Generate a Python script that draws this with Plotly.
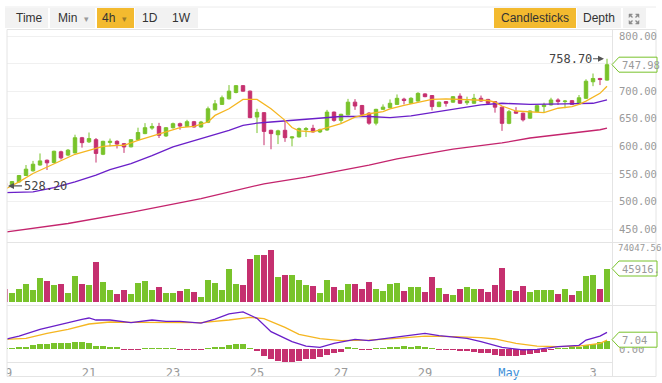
import plotly.graph_objects as go
import pandas as pd

# ---------------- data ----------------
START = pd.Timestamp("2018-04-19 00:00")
STEP = pd.Timedelta(hours=4)

opens = [533, 529, 535.5, 547, 555.5, 566, 574.7, 570.5, 590, 584,
         588, 615.5, 608, 612, 585.5, 607, 609, 604.8, 599, 612,
         623, 633, 636, 618.7, 633.7, 641, 636, 644.6, 635, 643.4,
         666.3, 676, 686, 697.6, 710, 700, 653, 661, 629, 621,
         629, 615, 617, 630, 632.5, 626, 629.5, 662, 647, 657,
         680, 674, 660, 642, 667, 670, 676, 685.5, 678, 682,
         695, 692, 672, 681, 680, 691, 679, 678, 687, 685,
         681, 671, 641.6, 663, 660, 651, 662.8, 672, 675, 684,
         681, 682.7, 677, 687, 717, 723, 720]
highs = [535, 537, 548, 566, 573.5, 587, 576, 592, 592, 595,
         621, 617, 625, 615, 610, 614, 611, 606, 613, 633.7,
         642, 642, 642.5, 635, 643, 643, 648, 646, 646, 672,
         684, 692, 711, 711, 711, 701, 668, 662, 630, 630,
         647, 618, 634, 635, 639, 632, 666, 663, 659, 686,
         685.5, 675, 662, 668, 676, 685, 694, 688, 689, 698,
         696, 693, 681, 682, 691, 696, 690, 695, 692, 686,
         682, 672, 666, 671, 661, 665, 675, 679, 688, 687,
         684, 684, 693, 721.5, 732, 724, 758.7]
lows = [528.2, 528.6, 534, 546, 554, 565, 557, 569, 576, 582,
        587, 597.6, 606, 570.5, 584, 600, 596, 588, 598, 611,
        622, 630, 615, 617, 632, 630, 635, 634, 634, 642,
        665, 675, 685, 696, 699, 651, 624, 602, 594.6, 604,
        608, 600, 616, 617, 625, 624, 628, 644.6, 641.6, 656,
        666, 656, 639, 638, 666, 669, 675, 676, 677, 681,
        689, 665, 671, 672, 679, 677, 675, 677, 681, 676,
        661, 628, 640, 659, 645, 650, 662, 662, 674, 675,
        669, 675, 676, 686, 709, 711, 719]
closes = [529, 536, 547, 558.5, 567.5, 573.5, 570, 591, 579, 593,
          615.5, 606.6, 614, 587, 609, 609, 604, 598.8, 612, 625,
          633.7, 636, 620, 633.7, 641, 636.7, 644.6, 635, 644, 668,
          677, 688, 700, 710, 700, 652, 661.5, 627, 623, 628,
          615.7, 617, 632, 632, 626, 630, 662, 647, 658, 680,
          673, 658, 642, 667, 671, 678, 687, 683, 687, 696,
          690, 672, 680, 678, 690, 678, 682, 687, 682, 678,
          671, 641.6, 662.8, 660, 648, 664, 673.6, 675, 684, 681,
          682, 676, 688, 718, 723, 721, 747.98]
volumes = [18401, 11669, 17503, 24235, 16157, 32314, 28274, 22889, 24235, 12118,
           35006, 24235, 22889, 55202, 26928, 16157, 10771, 16157, 10771, 25582,
           28274, 16157, 20196, 12118, 12118, 14810, 17503, 13464, 6732, 29621,
           25582, 16157, 45778, 24235, 22889, 59242, 64627, 64627, 71359, 33660,
           36353, 36353, 29621, 22889, 21542, 12118, 29621, 20196, 16157, 24684,
           24684, 17503, 26928, 17503, 15259, 24684, 25582, 15259, 20196, 20196,
           13464, 33660, 18850, 10771, 9425, 17503, 20196, 17503, 17503, 13464,
           22889, 47124, 16157, 14810, 21542, 13464, 16157, 16157, 16157, 10771,
           17503, 9425, 14810, 35006, 37699, 17503, 45916]
macd_hist = [0.5, 0.6, 1.4, 2.0, 3.1, 4.0, 4.0, 4.8, 5.1, 5.1,
             5.9, 5.9, 4.8, 2.5, 2.5, 2.0, 1.4, -0.3, -0.5, -0.8,
             0.3, 0.5, 0.3, 0.2, 0.1, -0.1, -0.2, -0.5, -0.3, 0.2,
             1.4, 2.0, 3.1, 4.0, 4.0, 0.2, -1.7, -5.9, -8.5, -9.9,
             -10.7, -10.7, -9.9, -8.8, -8.5, -7.1, -5.1, -3.7, -2.3, 1.1,
             0.6, -0.3, -0.8, 0.3, 0.8, 1.4, 2.0, 2.5, 2.0, 2.5,
             1.4, 0.3, -0.6, -0.8, -0.8, -1.4, -1.7, -2.3, -3.1, -3.7,
             -5.1, -5.9, -5.9, -5.6, -5.1, -4.5, -3.7, -2.5, -0.6, 0.3,
             0.6, 1.1, 2.0, 3.1, 4.2, 5.9, 7.04]

# moving averages, read at candle indices
ma7_idx = [0, 2, 4, 6, 8, 10, 12, 14, 16, 17, 19, 21, 24, 25, 27, 29, 30, 32, 34, 36,
           38, 40, 41, 42, 44, 46, 48, 50, 52, 54, 55, 57, 59, 61, 63, 65, 67, 69, 70, 71,
           73, 75, 77, 79, 81, 82, 83, 85, 86]
ma7_val = [522, 535.5, 550.6, 562.7, 574.7, 585.5, 592.8, 600, 601.8, 601.8, 610.8, 618, 629, 633.7, 636, 644, 656, 668, 685, 685,
           668, 647, 634, 628, 626, 633, 641, 653, 659, 663, 668, 674, 680, 685, 686, 685, 684, 683, 680, 673,
           664, 662, 661, 669, 672, 676, 682, 696, 709]
ma25_idx = [0, 4, 7, 10, 13, 15, 18, 21, 24, 28, 32, 34, 36, 38, 41, 43, 45, 48, 52, 55,
            58, 61, 63, 65, 68, 71, 75, 80, 84, 86]
ma25_val = [516, 517.5, 525, 535.5, 547.6, 557.8, 568.7, 583, 599, 614, 629, 638, 642, 644, 647, 649, 652, 654, 654, 652,
            655, 661, 665, 669, 675, 678, 676, 677, 678, 684]
ma99_idx = [0, 9, 18, 28, 37, 43, 52, 56, 64, 71, 75, 81, 85, 86]
ma99_val = [444.5, 460, 480, 505, 532, 544, 566, 577, 595, 606, 615, 624, 630, 633]

dif_idx = [0, 2, 5, 8, 11, 12, 13, 15, 18, 21, 23, 25, 28, 30, 32, 34, 36, 38, 41, 43,
           45, 47, 50, 52, 57, 60, 62, 66, 68, 71, 74, 76, 79, 82, 83, 85, 86]
dif_val = [8.2, 11, 16.7, 21.2, 25.2, 26.3, 24.6, 24.6, 22.4, 24.6, 23.5, 23.5, 22, 25.4, 29.7, 31.4, 26, 14.7, 6.2, 2.5,
           1.4, 4.8, 8.2, 7.1, 11, 13.3, 11.3, 9, 6.2, 1.4, -0.8, -0.3, 2, 3.1, 7.6, 11, 14.1]
dea_idx = [0, 3, 6, 9, 12, 15, 18, 23, 28, 32, 35, 37, 40, 42, 43, 45, 48, 52, 56, 60,
           64, 68, 70, 73, 76, 79, 82, 85, 86]
dea_val = [8.2, 9, 13.3, 16.7, 21.2, 22.9, 22.6, 22.6, 22.3, 24.6, 26.8, 25.7, 18.4, 12.4, 11.3, 8.8, 7.1, 7.6, 9, 11,
           10.5, 9.6, 8.5, 4.8, 2.5, 2, 2.5, 4.8, 7.6]

price_ticks = [450, 500, 550, 600, 650, 700, 750, 800]
volume_top = 74047.56
day_ticks = ["2018-04-19", "2018-04-21", "2018-04-23", "2018-04-25",
             "2018-04-27", "2018-04-29", "2018-05-01", "2018-05-03"]
day_labels = ["19", "21", "23", "25", "27", "29", "May", "3"]

# ---------------- styling / geometry ----------------
W, H = 662, 383
GREEN = "#79c32b"
PINK = "#c5306f"
GOLD = "#f3ba2f"
YEL = "#f5b621"
PURP = "#6a1fc9"
MAG = "#c4246d"
GRID = "#f0f0f0"
LINE = "#e4e4e4"
MONO = "DejaVu Sans Mono"
SANS = "Liberation Sans"


def fx(px):
    return px / W


def fy(py):
    return 1 - py / H


times = [START + STEP * i for i in range(len(opens))]
col = [GREEN if c >= o else PINK for o, c in zip(opens, closes)]
hcol = [GREEN if v >= 0 else PINK for v in macd_hist]
bar_w = STEP.total_seconds() * 1000 * 0.72


def tx(idx):
    return [START + STEP * i for i in idx]


# axis geometry
PX_DAY = 42.0
X_ZERO_PX = 5.0
PLOT_R = 612.0
x_lo = START - pd.Timedelta(days=X_ZERO_PX / PX_DAY)
x_hi = START + pd.Timedelta(days=(PLOT_R - X_ZERO_PX) / PX_DAY)

MAIN_T, MAIN_B = 30.0, 242.0
p_per_px = 350.0 / (229 - 36)
main_range = [800 - (MAIN_B - 36) * p_per_px, 800 + (36 - MAIN_T) * p_per_px]
VOL_T, VOL_B = 248.0, 302.0
MACD_T, MACD_B = 308.0, 362.0
m_per_px = 7.04 / 8.3
macd_range = [-(MACD_B - 349) * m_per_px, (349 - MACD_T) * m_per_px]


def py_of(v, rng, top, bot):
    return top + (rng[1] - v) / (rng[1] - rng[0]) * (bot - top)


fig = go.Figure()

fig.add_trace(go.Candlestick(
    x=times, open=opens, high=highs, low=lows, close=closes,
    increasing=dict(line=dict(color=GREEN, width=1), fillcolor=GREEN),
    decreasing=dict(line=dict(color=PINK, width=1), fillcolor=PINK),
    whiskerwidth=0, xaxis="x", yaxis="y", hoverinfo="skip"))
for idx, val, c in [(ma99_idx, ma99_val, MAG), (ma25_idx, ma25_val, PURP), (ma7_idx, ma7_val, YEL)]:
    fig.add_trace(go.Scatter(x=tx(idx), y=val, mode="lines", line=dict(color=c, width=1.3),
                             xaxis="x", yaxis="y", hoverinfo="skip"))

fig.add_trace(go.Bar(x=times, y=volumes, marker=dict(color=col, line=dict(width=0)),
                     width=bar_w, xaxis="x2", yaxis="y2", hoverinfo="skip"))

fig.add_trace(go.Bar(x=times, y=macd_hist, marker=dict(color=hcol, line=dict(width=0)),
                     width=bar_w, xaxis="x3", yaxis="y3", hoverinfo="skip"))
fig.add_trace(go.Scatter(x=tx(dea_idx), y=dea_val, mode="lines", line=dict(color=YEL, width=1.3),
                         xaxis="x3", yaxis="y3", hoverinfo="skip"))
fig.add_trace(go.Scatter(x=tx(dif_idx), y=dif_val, mode="lines", line=dict(color=PURP, width=1.3),
                         xaxis="x3", yaxis="y3", hoverinfo="skip"))

xdom = [0, fx(PLOT_R)]
tickfont = dict(family=MONO, size=10.5, color="#9a9a9a")
ticktext_x = [f'<span style="color:#3d8fd8">{t}</span>' if t == "May" else t for t in day_labels]
# the 750 label sits under the last-price box in the reference
price_text = ["" if v == 750 else f"{v:.2f}" for v in price_ticks]

common_x = dict(domain=xdom, range=[x_lo, x_hi], showgrid=False, zeroline=False, type="date",
                automargin=False)
fig.update_layout(
    width=W, height=H, margin=dict(l=0, r=0, t=0, b=0, autoexpand=False),
    paper_bgcolor="white", plot_bgcolor="white", showlegend=False,
    bargap=0,
    xaxis=dict(**common_x, anchor="y", showticklabels=False, rangeslider=dict(visible=False)),
    xaxis2=dict(**common_x, anchor="y2", matches="x", showticklabels=False),
    xaxis3=dict(**common_x, anchor="y3", matches="x", tickvals=day_ticks, ticktext=ticktext_x,
                tickfont=dict(family=MONO, size=12, color="#9a9a9a"), ticks="", showline=True,
                linecolor=LINE, linewidth=1, ticklabeloverflow="allow"),
    yaxis=dict(domain=[fy(MAIN_B), fy(MAIN_T)], range=main_range, side="right", anchor="x",
               tickvals=price_ticks, ticktext=price_text, automargin=False,
               tickfont=tickfont, showgrid=True, gridcolor=GRID, zeroline=False,
               ticklabelstandoff=6, ticklabeloverflow="allow"),
    yaxis2=dict(domain=[fy(VOL_B), fy(VOL_T)], range=[0, volume_top], side="right", anchor="x2",
                tickvals=[volume_top], ticktext=[f"{volume_top:.2f}"],
                tickfont=dict(family=MONO, size=9, color="#9a9a9a"),
                showgrid=True, gridcolor=GRID, zeroline=False, ticklabelstandoff=5,
                ticklabeloverflow="allow", automargin=False),
    yaxis3=dict(domain=[fy(MACD_B), fy(MACD_T)], range=macd_range, side="right", anchor="x3",
                tickvals=[0], ticktext=["0.00"], tickfont=tickfont, showgrid=False,
                zeroline=False, ticklabelstandoff=6, ticklabeloverflow="allow", automargin=False),
)

shapes = []
# chart frame lines
for y0 in [29.5, MAIN_B + 0.5, MACD_T - 2.5]:
    shapes.append(dict(type="line", xref="paper", yref="paper", x0=fx(7), x1=fx(656), y0=fy(y0), y1=fy(y0),
                       line=dict(color=LINE, width=1)))
shapes.append(dict(type="line", xref="paper", yref="paper", x0=fx(7), x1=fx(656), y0=fy(376.5), y1=fy(376.5),
                   line=dict(color=LINE, width=1)))
# left mask and borders
shapes.append(dict(type="rect", xref="paper", yref="paper", x0=0, x1=fx(7), y0=0, y1=fy(29.5),
                   fillcolor="white", line=dict(width=0), layer="above"))
for xpx in [7, PLOT_R + 0.5]:
    shapes.append(dict(type="line", xref="paper", yref="paper", x0=fx(xpx), x1=fx(xpx),
                       y0=fy(376.5), y1=fy(29.5), line=dict(color=LINE, width=1), layer="above"))
shapes.append(dict(type="line", xref="paper", yref="paper", x0=fx(656), x1=fx(656),
                   y0=fy(376.5), y1=fy(29.5), line=dict(color=LINE, width=1), layer="below"))

# toolbar
shapes.append(dict(type="line", xref="paper", yref="paper", x0=fx(5), x1=fx(656), y0=fy(7), y1=fy(7),
                   line=dict(color="#ececec", width=1)))
buttons = [(5, 48, "#f2f2f2"), (50, 95, "#f2f2f2"), (97, 134, GOLD), (135, 198, "#f2f2f2"),
           (494, 576, GOLD), (577, 621, "#f2f2f2"), (623, 646, "#f2f2f2")]
for x0, x1, c in buttons:
    shapes.append(dict(type="rect", xref="paper", yref="paper", x0=fx(x0), x1=fx(x1), y0=fy(28), y1=fy(8),
                       fillcolor=c, line=dict(width=0), layer="below"))
# expand icon
cx, cy = 634, 19
for dx in (-1, 1):
    for dy in (-1, 1):
        tipx, tipy = cx + 5 * dx, cy + 5 * dy
        path = (f"M{fx(tipx)},{fy(tipy)} L{fx(tipx - 3.5 * dx)},{fy(tipy)} "
                f"L{fx(tipx)},{fy(tipy - 3.5 * dy)} Z")
        shapes.append(dict(type="path", xref="paper", yref="paper", path=path,
                           fillcolor="#8a8a8a", line=dict(color="#8a8a8a", width=0.5)))
        shapes.append(dict(type="line", xref="paper", yref="paper",
                           x0=fx(cx + 1.5 * dx), y0=fy(cy + 1.5 * dy), x1=fx(cx + 3.5 * dx), y1=fy(cy + 3.5 * dy),
                           line=dict(color="#8a8a8a", width=1.2)))

annotations = []
tb = [("Time", 29.5), ("Min", 67), ("4h", 109), ("1D", 150), ("1W", 181), ("Candlesticks", 535), ("Depth", 599)]
for t, xc in tb:
    annotations.append(dict(text=t, xref="paper", yref="paper", x=fx(xc), y=fy(18), showarrow=False,
                            xanchor="center", yanchor="middle", font=dict(family=SANS, size=12, color="#333")))
for xc, c in [(86, "#9a9a9a"), (124, "#9a7a2a")]:
    annotations.append(dict(text="▾", xref="paper", yref="paper", x=fx(xc), y=fy(19), showarrow=False,
                            xanchor="center", yanchor="middle", font=dict(family="DejaVu Sans", size=9, color=c)))

# high / low markers
hi_i = highs.index(max(highs))
lo_i = lows.index(min(lows))
annotations.append(dict(text=f"{max(highs):.2f}", x=times[hi_i], y=max(highs), xref="x", yref="y",
                        showarrow=True, ax=-37, ay=0, arrowhead=2, arrowsize=1, arrowwidth=1.2,
                        arrowcolor="#555", standoff=3, font=dict(family=MONO, size=12, color="#444")))
annotations.append(dict(text=f"{min(lows):.2f}", x=times[lo_i], y=min(lows), xref="x", yref="y",
                        showarrow=True, ax=40, ay=0, arrowhead=2, arrowsize=1, arrowwidth=1.2,
                        arrowcolor="#555", standoff=3, font=dict(family=MONO, size=12, color="#444")))

# last value labels
labels = [
    (f"{closes[-1]:.2f}", py_of(closes[-1], main_range, MAIN_T, MAIN_B)),
    (f"{volumes[-1]:.0f}.", py_of(volumes[-1], [0, volume_top], VOL_T, VOL_B)),
    (f"{macd_hist[-1]:.2f}", py_of(macd_hist[-1], macd_range, MACD_T, MACD_B) - 1),
]
for text, pyc in labels:
    path = (f"M{fx(612)},{fy(pyc)} L{fx(619)},{fy(pyc - 7.5)} L{fx(657)},{fy(pyc - 7.5)} "
            f"L{fx(657)},{fy(pyc + 7.5)} L{fx(619)},{fy(pyc + 7.5)} Z")
    shapes.append(dict(type="path", xref="paper", yref="paper", path=path, fillcolor="white",
                       line=dict(color=GREEN, width=1), layer="above"))
    annotations.append(dict(text=text, xref="paper", yref="paper", x=fx(620), y=fy(pyc), showarrow=False,
                            xanchor="left", yanchor="middle", font=dict(family=MONO, size=10.5, color="#9a9a9a")))

fig.update_layout(shapes=shapes, annotations=annotations)

fig.write_html("out.html", config={"displayModeBar": False},
               post_script="document.body.style.margin='0';document.body.style.overflow='hidden';")
